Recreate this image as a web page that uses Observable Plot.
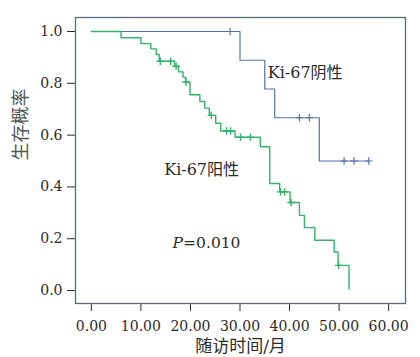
<!DOCTYPE html>
<html><head><meta charset="utf-8">
<script src="https://cdn.jsdelivr.net/npm/d3@7"></script>
<script src="https://cdn.jsdelivr.net/npm/@observablehq/plot@0.6"></script>
<style>body{margin:0;background:#fff}</style>
</head><body><div id="chart"></div>
<script>
// Ki-67 negative (阴性)
const negTimes = [0, 30, 35, 37, 46, 56];
const negSurv  = [1, 0.889, 0.778, 0.667, 0.5, 0.5];
const negCensor = [28, 42, 44, 51, 53, 56];
// Ki-67 positive (阳性)
const posTimes = [0, 6, 10, 12, 13.1, 13.7, 16.8, 17.6, 18.5, 19, 19.9, 21.9, 22.9, 23.8, 25.1, 26.1, 29, 34.1, 36, 38, 40.1, 42, 43, 45.1, 49, 49.8, 52];
const posSurv  = [1, 0.976, 0.953, 0.933, 0.911, 0.885, 0.866, 0.844, 0.824, 0.805, 0.756, 0.73, 0.704, 0.676, 0.646, 0.616, 0.592, 0.555, 0.413, 0.381, 0.34, 0.29, 0.243, 0.194, 0.149, 0.097, 0.006];
const posCensor = [13.9, 16, 17.1, 19.1, 24.2, 27.3, 28.1, 30.1, 32.1, 38.2, 39, 40.3, 49.9];
const xTicks = [0, 10, 20, 30, 40, 50, 60];
const yTicks = [0, 0.2, 0.4, 0.6, 0.8, 1.0];
const xTitle = "随访时间/月";
const yTitle = "生存概率";
const labels = [
  {text: "Ki-67阴性", x: 35.6, y: 0.84},
  {text: "Ki-67阳性", x: 14.7, y: 0.466}
];
const pLabel = {x: 16.4, y: 0.183, value: "=0.010"};

const negColor = "#5570b0", posColor = "#33b36e";
const survAt = (times, surv, t) => { let s = surv[0]; for (let i = 0; i < times.length; i++) if (times[i] <= t) s = surv[i]; return s; };
const negLine = negTimes.map((t, i) => ({t, s: negSurv[i]}));
const posLine = posTimes.map((t, i) => ({t, s: posSurv[i]}));
const negC = negCensor.map(t => ({t, s: survAt(negTimes, negSurv, t)}));
const posC = posCensor.map(t => ({t, s: survAt(posTimes, posSurv, t)}));

const serif = "'DejaVu Serif','Noto Sans CJK SC',serif";
const txt = "#2a2a2a";
const plot = Plot.plot({
  width: 420, height: 357,
  marginLeft: 75, marginRight: 15, marginTop: 17, marginBottom: 54,
  style: {fontFamily: serif, fontSize: "14px", color: txt, background: "#fff"},
  x: {domain: [-3.2, 63.4], ticks: xTicks, tickFormat: d3.format(".2f"), tickSize: 8, tickPadding: 10, label: null},
  y: {domain: [-0.05, 1.054], ticks: yTicks, tickFormat: d3.format(".1f"), tickSize: 8, tickPadding: 5, label: null},
  marks: [
    Plot.frame({stroke: "#5a6b78", strokeWidth: 1.3}),
    Plot.line(negLine, {x: "t", y: "s", curve: "step-after", stroke: negColor, strokeWidth: 1.2}),
    Plot.line(posLine, {x: "t", y: "s", curve: "step-after", stroke: posColor, strokeWidth: 1.4}),
    Plot.dot(negC, {x: "t", y: "s", symbol: "plus", r: 2.5, stroke: negColor, strokeWidth: 1.2}),
    Plot.dot(posC, {x: "t", y: "s", symbol: "plus", r: 2.5, stroke: posColor, strokeWidth: 1.4}),
    Plot.text(labels, {x: "x", y: "y", text: "text", textAnchor: "start", fontSize: 16, fill: txt}),
    Plot.text([pLabel], {x: "x", y: "y", text: () => "P", textAnchor: "start", fontSize: 15.5, fontStyle: "italic", fill: txt}),
    Plot.text([pLabel], {x: "x", y: "y", text: "value", textAnchor: "start", dx: 10.5, fontSize: 15.5, fill: txt}),
    Plot.text([xTitle], {frameAnchor: "bottom", dy: 43, lineAnchor: "middle", fontSize: 17, fill: txt}),
    Plot.text([yTitle], {frameAnchor: "left", dx: -54, rotate: -90, fontSize: 18, fill: "#555"})
  ]
});
document.getElementById("chart").appendChild(plot);
</script>
</body></html>
